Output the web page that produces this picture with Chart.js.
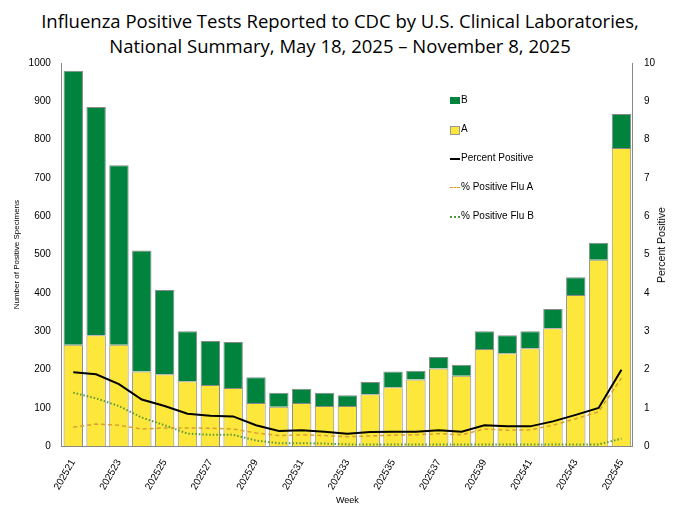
<!DOCTYPE html>
<html><head><meta charset="utf-8">
<script src="https://cdn.jsdelivr.net/npm/chart.js@4"></script>
<style>
body{margin:0;background:#fff;font-family:"Liberation Sans",Arial,sans-serif}
#t{position:absolute;left:0;top:8px;width:680px;text-align:center;font-size:18.5px;line-height:25px;color:#000;font-family:"Open Sans","Liberation Sans",sans-serif}
#wrap{position:absolute;left:0;top:54px;width:680px;height:456px}
#lg{position:absolute;left:450px;top:94px;font-family:"Liberation Sans",Arial,sans-serif;font-size:10px;color:#000}
#lg div{height:29px;display:flex;align-items:flex-start}
#lg span.s{display:inline-block;width:10px;margin-right:1px}
#rt{position:absolute;left:661px;top:245px;transform:translate(-50%,-50%) rotate(-90deg);font-size:10.5px;white-space:nowrap}
</style></head><body>
<div id="t">Influenza Positive Tests Reported to CDC by U.S. Clinical Laboratories,<br>National Summary, May 18, 2025 – November 8, 2025</div>
<div id="wrap"><canvas id="c" width="680" height="456"></canvas></div>
<div id="rt">Percent Positive</div>
<div id="lg">
<div><span class="s" style="height:7px;background:#00843d;margin-top:3px"></span>B</div>
<div><span class="s" style="height:7px;background:#fde73a;border:1px solid #999;width:8px;margin-top:3px"></span>A</div>
<div><span class="s" style="height:2px;background:#000;margin-top:6px"></span>Percent Positive</div>
<div><span class="s" style="height:0;border-top:1.5px dashed #e0a020;margin-top:6px"></span>% Positive Flu A</div>
<div><span class="s" style="height:0;border-top:2px dotted #4a9a3a;margin-top:6px"></span>% Positive Flu B</div>
</div>
<script>
const weeks=['202521','202522','202523','202524','202525','202526','202527','202528','202529','202530','202531','202532','202533','202534','202535','202536','202537','202538','202539','202540','202541','202542','202543','202544','202545'];
const fluA=[265,290,265,195,188,170,160,152,113,103,113,105,105,136,154,174,203,184,254,243,256,308,395,487,778];
const fluB=[715,595,468,316,220,130,115,120,67,37,37,35,28,32,41,23,30,29,46,47,44,50,46,44,89];
const pctPos=[1.93,1.88,1.62,1.22,1.05,0.85,0.8,0.78,0.55,0.4,0.42,0.38,0.33,0.37,0.38,0.38,0.42,0.38,0.55,0.52,0.52,0.65,0.82,1.0,2.0];
const pctA=[0.5,0.58,0.55,0.45,0.48,0.48,0.47,0.45,0.35,0.28,0.3,0.28,0.25,0.27,0.29,0.3,0.33,0.3,0.45,0.42,0.43,0.55,0.72,0.9,1.78];
const pctB=[1.4,1.25,1.05,0.75,0.55,0.33,0.3,0.3,0.15,0.08,0.08,0.07,0.05,0.05,0.05,0.05,0.05,0.05,0.05,0.05,0.05,0.05,0.05,0.05,0.2];
new Chart(document.getElementById('c'),{
data:{labels:weeks,datasets:[
{type:'line',data:pctPos,yAxisID:'y1',borderColor:'#000',borderWidth:2,pointRadius:0,tension:0,order:0},
{type:'line',data:pctA,yAxisID:'y1',borderColor:'#d9a030',borderWidth:1.5,borderDash:[4,3],pointRadius:0,order:1},
{type:'line',data:pctB,yAxisID:'y1',borderColor:'#5a9a3a',borderWidth:2,borderDash:[1.5,2],pointRadius:0,order:2},
{type:'bar',data:fluA,backgroundColor:'#fde73a',borderColor:'#8a8a8a',borderWidth:1,categoryPercentage:1,barPercentage:0.85,order:3},
{type:'bar',data:fluB,backgroundColor:'#00843d',borderColor:'#8a8a8a',borderWidth:1,categoryPercentage:1,barPercentage:0.85,order:4}
]},
options:{responsive:false,animation:false,layout:{padding:{left:8,right:22,top:2,bottom:4}},
plugins:{legend:{display:false},tooltip:{enabled:false}},
scales:{
x:{stacked:true,grid:{display:false},border:{color:'#888'},title:{display:true,text:'Week',font:{size:9,family:'Liberation Sans'},color:'#000',padding:0},
 ticks:{autoSkip:false,maxRotation:60,minRotation:60,color:'#000',font:{size:10,family:'Liberation Sans'},callback:(v,i)=>i%2===0?weeks[i]:''}},
y:{stacked:true,min:0,max:1000,grid:{display:false},border:{color:'#888'},ticks:{stepSize:100,color:'#000',font:{size:10,family:'Liberation Sans'},callback:v=>String(v)},
 title:{display:true,text:'Number of Positive Specimens',font:{size:8,family:'Liberation Sans'},color:'#000'}},
y1:{position:'right',min:0,max:10,grid:{display:false},border:{color:'#888'},ticks:{stepSize:1,color:'#000',font:{size:10,family:'Liberation Sans'}}}
}}});
</script></body></html>
